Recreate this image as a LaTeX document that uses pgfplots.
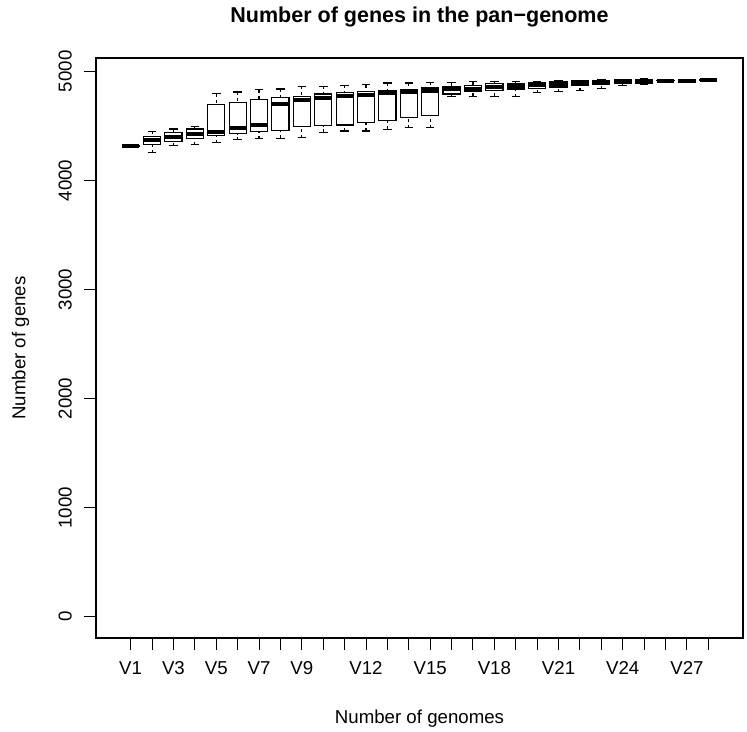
\documentclass[border=0pt]{standalone}
\usepackage{pgfplots}
\pgfplotsset{compat=1.18}
\usepgfplotslibrary{statistics}
\usepackage{fontspec}
\setmainfont{Liberation Sans}

% one box: position, lower whisker, lower quartile, median, upper quartile, upper whisker
\newcommand{\genebox}[6]{%
  \addplot[black, solid, line width=0.55pt,
    boxplot prepared={draw position=#1, lower whisker=#2, lower quartile=#3,
      median=#4, upper quartile=#5, upper whisker=#6}] coordinates {};}

\begin{document}
\begin{tikzpicture}
\useasboundingbox (-48pt,-46.5pt) rectangle (325.5pt,319pt);
\begin{axis}[
  at={(0,0)}, anchor=south west,
  scale only axis, width=323.5pt, height=290pt,
  xmin=-0.62, xmax=29.62, ymin=-195, ymax=5122,
  xtick={1,...,28},
  xticklabels={V1,,V3,,V5,,V7,,V9,,,V12,,,V15,,,V18,,,V21,,,V24,,,V27,},
  ytick={0,1000,2000,3000,4000,5000},
  tick align=outside, xtick pos=bottom, ytick pos=left,
  major tick length=5.8pt,
  tick style={black, line width=0.5pt},
  axis line style={line width=0.55pt},
  /pgf/number format/assume math mode=true,
  /pgf/number format/set thousands separator={},
  tick label style={font=\fontsize{9.33}{11}\selectfont},
  yticklabel style={rotate=90, anchor=base, inner sep=0pt},
  yticklabel shift=6.4pt,
  xticklabel style={anchor=base, inner sep=0pt},
  xticklabel shift=12.5pt,
  xlabel={Number of genomes},
  xlabel style={at={(axis description cs:0.5,0)}, anchor=base, yshift=-42.5pt,
    font=\fontsize{9.33}{11}\selectfont},
  ylabel={Number of genes},
  ylabel style={at={(axis description cs:-0.109,0.5)}, anchor=base,
    font=\fontsize{9.33}{11}\selectfont},
  title={Number of genes in the pan−genome},
  title style={at={(axis description cs:0.5,1)}, anchor=base, yshift=11.65pt,
    font=\bfseries\fontsize{10.75}{13}\selectfont},
  boxplot/draw direction=y,
  boxplot/box extend=0.8,
  boxplot/whisker extend=0.4,
  boxplot/every box/.style={fill=white},
  boxplot/every median/.style={line width=2pt},
  boxplot/draw/lower whisker/.code={%
    \draw[dash pattern=on 1.5pt off 1.5pt]
      (boxplot cs:\pgfplotsboxplotvalue{lower whisker})
      -- (boxplot cs:\pgfplotsboxplotvalue{lower quartile});
    \draw (boxplot whisker cs:\pgfplotsboxplotvalue{lower whisker},0)
      -- (boxplot whisker cs:\pgfplotsboxplotvalue{lower whisker},1);},
  boxplot/draw/upper whisker/.code={%
    \draw[dash pattern=on 1.5pt off 1.5pt]
      (boxplot cs:\pgfplotsboxplotvalue{upper whisker})
      -- (boxplot cs:\pgfplotsboxplotvalue{upper quartile});
    \draw (boxplot whisker cs:\pgfplotsboxplotvalue{upper whisker},0)
      -- (boxplot whisker cs:\pgfplotsboxplotvalue{upper whisker},1);},
]
\genebox{1}{4311}{4313}{4315}{4317}{4319}
\genebox{2}{4252}{4328}{4368}{4400}{4452}
\genebox{3}{4319}{4359}{4398}{4435}{4471}
\genebox{4}{4328}{4383}{4429}{4471}{4490}
\genebox{5}{4344}{4414}{4444}{4694}{4795}
\genebox{6}{4371}{4429}{4481}{4713}{4810}
\genebox{7}{4383}{4444}{4505}{4744}{4829}
\genebox{8}{4386}{4460}{4698}{4759}{4838}
\genebox{9}{4392}{4496}{4741}{4768}{4861}
\genebox{10}{4441}{4502}{4759}{4792}{4863}
\genebox{11}{4453}{4508}{4771}{4804}{4872}
\genebox{12}{4453}{4527}{4783}{4813}{4878}
\genebox{13}{4469}{4548}{4801}{4822}{4893}
\genebox{14}{4481}{4573}{4810}{4832}{4893}
\genebox{15}{4481}{4591}{4820}{4847}{4899}
\genebox{16}{4771}{4792}{4835}{4859}{4896}
\genebox{17}{4771}{4813}{4841}{4868}{4905}
\genebox{18}{4771}{4826}{4856}{4884}{4905}
\genebox{19}{4768}{4838}{4868}{4891}{4905}
\genebox{20}{4804}{4844}{4872}{4896}{4905}
\genebox{21}{4811}{4856}{4881}{4902}{4911}
\genebox{22}{4822}{4868}{4890}{4911}{4915}
\genebox{23}{4841}{4881}{4899}{4917}{4920}
\genebox{24}{4868}{4887}{4905}{4922}{4925}
\genebox{25}{4878}{4893}{4911}{4927}{4930}
\genebox{26}{4910}{4912}{4914}{4916}{4918}
\genebox{27}{4911}{4913}{4915}{4917}{4919}
\genebox{28}{4918}{4920}{4922}{4924}{4926}
\end{axis}
\end{tikzpicture}
\end{document}
